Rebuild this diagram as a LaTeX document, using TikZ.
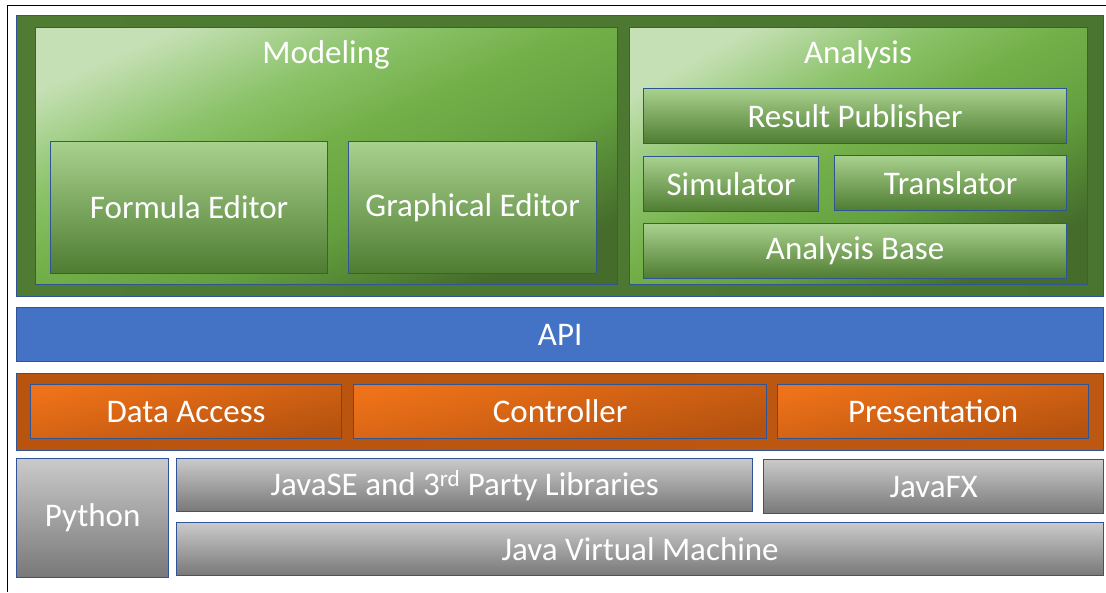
\documentclass[tikz,border=0pt]{standalone}
\usepackage{fontspec}
\setmainfont{Carlito}
\definecolor{edgeblue}{HTML}{2F5597}
\definecolor{gOutL}{HTML}{4F7C32}
\definecolor{gOutM}{HTML}{5F963D}
\definecolor{gOutR}{HTML}{4A7530}
\definecolor{gPan1}{HTML}{456C2B}
\definecolor{gPan2}{HTML}{64A03F}
\definecolor{gPan3}{HTML}{74B049}
\definecolor{gPan4}{HTML}{8CC36B}
\definecolor{gPan5}{HTML}{C5E0B4}
\definecolor{gBoxT}{HTML}{A9D18E}
\definecolor{gBoxM}{HTML}{70AD47}
\definecolor{gBoxB}{HTML}{4E7C31}
\definecolor{apiblue}{HTML}{4472C4}
\definecolor{oOutL}{HTML}{B9540F}
\definecolor{oOutM}{HTML}{E56C14}
\definecolor{oOutR}{HTML}{BD5812}
\definecolor{oBoxT}{HTML}{EE7219}
\definecolor{oBoxM}{HTML}{DC6716}
\definecolor{oBoxB}{HTML}{B5520F}
\definecolor{grayT}{HTML}{CACACA}
\definecolor{grayB}{HTML}{787878}

% diagonal panel gradient: light corner, broad green band, dark corner
\pgfdeclareverticalshading{panelgreen}{100bp}{%
  color(0bp)=(gPan1);
  color(25bp)=(gPan1);
  color(40bp)=(gPan2);
  color(52bp)=(gPan3);
  color(62bp)=(gPan4);
  color(75bp)=(gPan5);
  color(100bp)=(gPan5)}

\tikzset{
  layer/.style={draw=edgeblue, line width=1.3pt, inner sep=0pt, anchor=north west,
    text=white, font=\fontsize{33}{40}\selectfont},
  greenframe/.style={layer, left color=gOutL, middle color=gOutM, right color=gOutR},
  greenpanel/.style={layer, shading=panelgreen, shading angle=#1},
  greenbox/.style={layer, top color=gBoxT, middle color=gBoxM, bottom color=gBoxB},
  apibar/.style={layer, fill=apiblue},
  orangeframe/.style={layer, left color=oOutL, middle color=oOutM, right color=oOutR},
  orangebox/.style={layer, top color=oBoxT, middle color=oBoxM, bottom color=oBoxB, shading angle=12},
  graybox/.style={layer, top color=grayT, bottom color=grayB},
  title/.style={text=white, font=\fontsize{33}{40}\selectfont, inner sep=0pt}
}
% a box from its top-left corner (#3,#4) to its bottom-right corner (#5,#6)
\newcommand\blockat[7]{%
  \node[#2, minimum width={#5-#3}, minimum height={#6-#4}] (#1) at (#3,#4) {#7};}

\begin{document}
\begin{tikzpicture}[x=1pt, y=-1pt]
\useasboundingbox (0,0) rectangle (1106,592);
\coordinate (frameTR) at (1106,5);
\coordinate (frameTL) at (7,5);
\coordinate (frameBL) at (7,592);
\draw[line width=1pt] (frameTR) -- (frameTL) -- (frameBL);

% application layer
\blockat{app}{greenframe}{16}{15}{1103}{296}{}
\blockat{modeling}{greenpanel=24}{35}{27}{617}{284}{}
\blockat{analysis}{greenpanel=29}{629}{27}{1087}{284}{}
\node[title] (modelingTitle) at (326,55) {Modeling};
\node[title] (analysisTitle) at (858,55) {Analysis};
\blockat{formula}{greenbox}{50}{141}{327}{273}{Formula Editor}
\blockat{graphical}{greenbox}{348}{141}{596}{273}{Graphical Editor}
\blockat{publisher}{greenbox}{643}{88}{1066}{143}{Result Publisher}
\blockat{simulator}{greenbox}{643}{156}{818}{211}{Simulator}
\blockat{translator}{greenbox}{834}{155}{1066}{210}{Translator}
\blockat{analysisBase}{greenbox}{643}{223}{1066}{278}{Analysis Base}

% API
\blockat{api}{apibar}{16}{307}{1103}{361}{API}

% core layer
\blockat{core}{orangeframe}{16}{373}{1103}{450}{}
\blockat{dataAccess}{orangebox}{30}{384}{341}{438}{Data Access}
\blockat{controller}{orangebox}{353}{384}{766}{438}{Controller}
\blockat{presentation}{orangebox}{777}{384}{1088}{438}{Presentation}

% platform layer
\blockat{python}{graybox}{16}{458}{168}{577}{Python}
\blockat{javase}{graybox}{176}{458}{752}{511}{JavaSE and 3\textsuperscript{rd} Party Libraries}
\blockat{javafx}{graybox}{763}{459}{1103}{513}{JavaFX}
\blockat{jvm}{graybox}{176}{522}{1103}{575}{Java Virtual Machine}
\end{tikzpicture}
\end{document}
